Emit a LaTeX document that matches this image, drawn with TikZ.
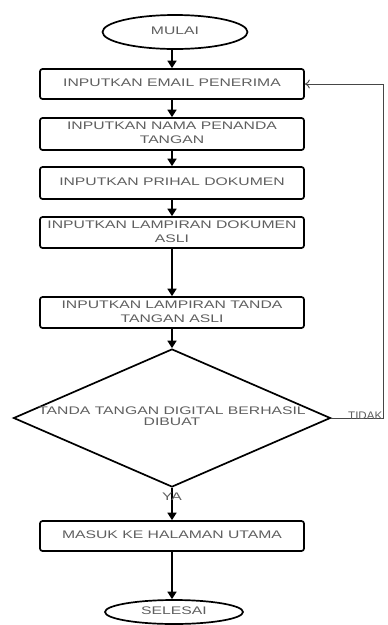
\documentclass[tikz,border=0pt]{standalone}
\usepackage{fontspec}
\setmainfont{Liberation Sans}
\usepackage{graphicx}
\usetikzlibrary{shapes.geometric,arrows.meta}
\definecolor{txt}{RGB}{95,95,95}
\definecolor{loopc}{RGB}{70,70,70}
\newcommand\bxtext[1]{\scalebox{1.43}[1]{\begin{tabular}{@{}c@{}}#1\end{tabular}}}
\begin{document}
\begin{tikzpicture}[x=1pt,y=1pt,
  every node/.style={font=\fontsize{11}{14}\selectfont, text=txt},
  procbox/.style={draw=black, line width=1.7pt, rounded corners=2.5pt, minimum width=264pt, inner sep=0pt},
  term/.style={draw=black, line width=1.7pt, ellipse, inner sep=0pt},
  flow/.style={draw=black, line width=1.7pt, -{Triangle[length=7.5pt,width=9pt]}},
  back/.style={draw=loopc, line width=0.9pt, -{To[length=5pt,width=9pt]}}]
\useasboundingbox (0,0) rectangle (388,-625);
\fill[white] (0,0) rectangle (388,-625);

\node[term, minimum width=145pt, minimum height=34pt] (start) at (175,-32) {\bxtext{MULAI}};
\node[procbox, minimum height=30pt] (b1) at (172,-84) {\bxtext{INPUTKAN EMAIL PENERIMA}};
\node[procbox, minimum height=32pt] (b2) at (172,-134) {\bxtext{INPUTKAN NAMA PENANDA\\TANGAN}};
\node[procbox, minimum height=32pt] (b3) at (172,-183) {\bxtext{INPUTKAN PRIHAL DOKUMEN}};
\node[procbox, minimum height=31pt] (b4) at (172,-232.5) {\bxtext{INPUTKAN LAMPIRAN DOKUMEN\\ASLI}};
\node[procbox, minimum height=31pt] (b5) at (172,-312.5) {\bxtext{INPUTKAN LAMPIRAN TANDA\\TANGAN ASLI}};
\node[draw=black, line width=1.7pt, diamond, inner sep=0pt, minimum width=317pt, minimum height=138pt] (d) at (172,-418) {};
\node[font=\fontsize{11}{11}\selectfont] (dt) at (d.center) {\bxtext{TANDA TANGAN DIGITAL BERHASIL\\DIBUAT}};
\node[procbox, minimum height=30pt] (b6) at (172,-536) {\bxtext{MASUK KE HALAMAN UTAMA}};
\node[term, minimum width=138pt, minimum height=24pt] (stop) at (174,-612) {\bxtext{SELESAI}};

\draw[flow] (start.south -| b1.north) -- (b1.north);
\draw[flow] (b1) -- (b2);
\draw[flow] (b2) -- (b3);
\draw[flow] (b3) -- (b4);
\draw[flow] (b4) -- (b5);
\draw[flow] (b5.south) -- (d.north);
\draw[flow] (d.south) -- (b6.north);
\node (ya) at (172,-498) {\bxtext{YA}};
\draw[flow] (b6.south) -- (b6.south |- stop.north);

\coordinate (r1) at (383,-418);
\draw[back] (d.east) -- (r1) |- (b1.east);
\node[anchor=base west, inner sep=0pt] (tidak) at (348,-419) {\scalebox{1.05}[1]{TIDAK}};
\end{tikzpicture}
\end{document}
